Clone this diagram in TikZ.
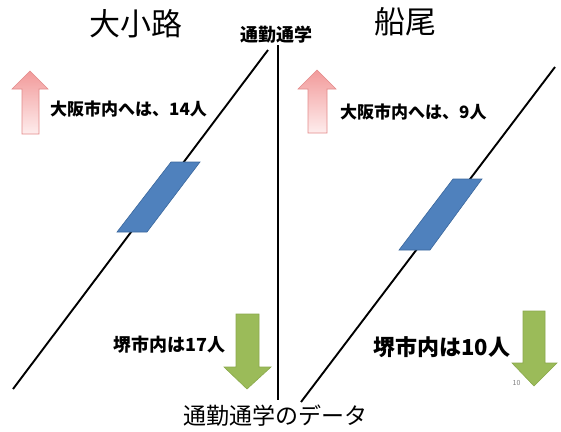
\documentclass[tikz,border=0pt]{standalone}
\usepackage{fontspec}
\setmainfont{Noto Sans CJK JP}
\usetikzlibrary{shapes.arrows}
\definecolor{paraBlue}{HTML}{4F81BD}
\definecolor{paraEdge}{HTML}{3A679C}
\definecolor{arrGreen}{HTML}{9BBB59}
\definecolor{arrGreenEdge}{HTML}{8AA84C}
\definecolor{pinkTop}{HTML}{F29A9A}
\definecolor{pinkBot}{HTML}{FEEDED}
\definecolor{pinkEdge}{HTML}{E38A8A}
\tikzset{
  axisline/.style={line width=1.9pt, black},
  plate/.style={fill=paraBlue, draw=paraEdge, line width=0.6pt},
  uparrow/.style={top color=pinkTop, bottom color=pinkBot, draw=pinkEdge, line width=0.6pt},
  downarrow/.style={fill=arrGreen, draw=arrGreenEdge, line width=0.6pt},
  title/.style={inner sep=0pt, font=\fontsize{31}{31}\selectfont},
  label/.style={inner sep=0pt, anchor=west, font=\bfseries\fontsize{17}{17}\selectfont},
}
\begin{document}
\begin{tikzpicture}[x=1pt,y=-1pt]
\useasboundingbox (0,0) rectangle (561,431);
% lines
\coordinate (vt) at (278,45);
\coordinate (vb) at (278,400);
\draw[axisline] (vt) -- (vb);
\coordinate (lt) at (268,50);
\coordinate (lb) at (13,389);
\draw[axisline] (lt) -- (lb);
\coordinate (rt) at (555,67);
\coordinate (rb) at (301,402);
\draw[axisline] (rt) -- (rb);
% plates
\draw[plate] (117,232) -- (147,232) -- (200,162) -- (171,162) -- cycle;
\draw[plate] (399,250) -- (430,250) -- (482,179) -- (453,179) -- cycle;
% pink up arrows
\draw[uparrow] (22,134) -- (22,89) -- (12,89) -- (30,71) -- (48,89) -- (39,89) -- (39,134) -- cycle;
\draw[uparrow] (308,133) -- (308,89) -- (298,89) -- (317,70) -- (336,89) -- (327,89) -- (327,133) -- cycle;
% green down arrows
\draw[downarrow] (236,314) -- (259,314) -- (259,367) -- (271,367) -- (247,389) -- (224,367) -- (236,367) -- cycle;
\draw[downarrow] (523,311) -- (545,311) -- (545,363) -- (557,363) -- (534,386) -- (512,363) -- (523,363) -- cycle;
% texts
\node[title] (t1) at (136,23.5) {大小路};
\node[title] (t2) at (405.5,22) {船尾};
\node[inner sep=0pt, font=\bfseries\fontsize{18}{18}\selectfont] (mid) at (276,34.5) {通勤通学};
\node[label] (a1) at (50,109.5) {大阪市内へは、14人};
\node[label] (a2) at (340,112.5) {大阪市内へは、9人};
\node[label, font=\bfseries\fontsize{18}{18}\selectfont] (b1) at (113,345) {堺市内は17人};
\node[label, font=\bfseries\fontsize{22}{22}\selectfont] (b2) at (373,347) {堺市内は10人};
\node[inner sep=0pt, text=gray, font=\fontsize{7}{7}\selectfont] (pg) at (516.5,383) {10};
\node[inner sep=0pt, font=\fontsize{23}{23}\selectfont] (cap) at (275.5,416) {通勤通学のデータ};
\end{tikzpicture}
\end{document}
